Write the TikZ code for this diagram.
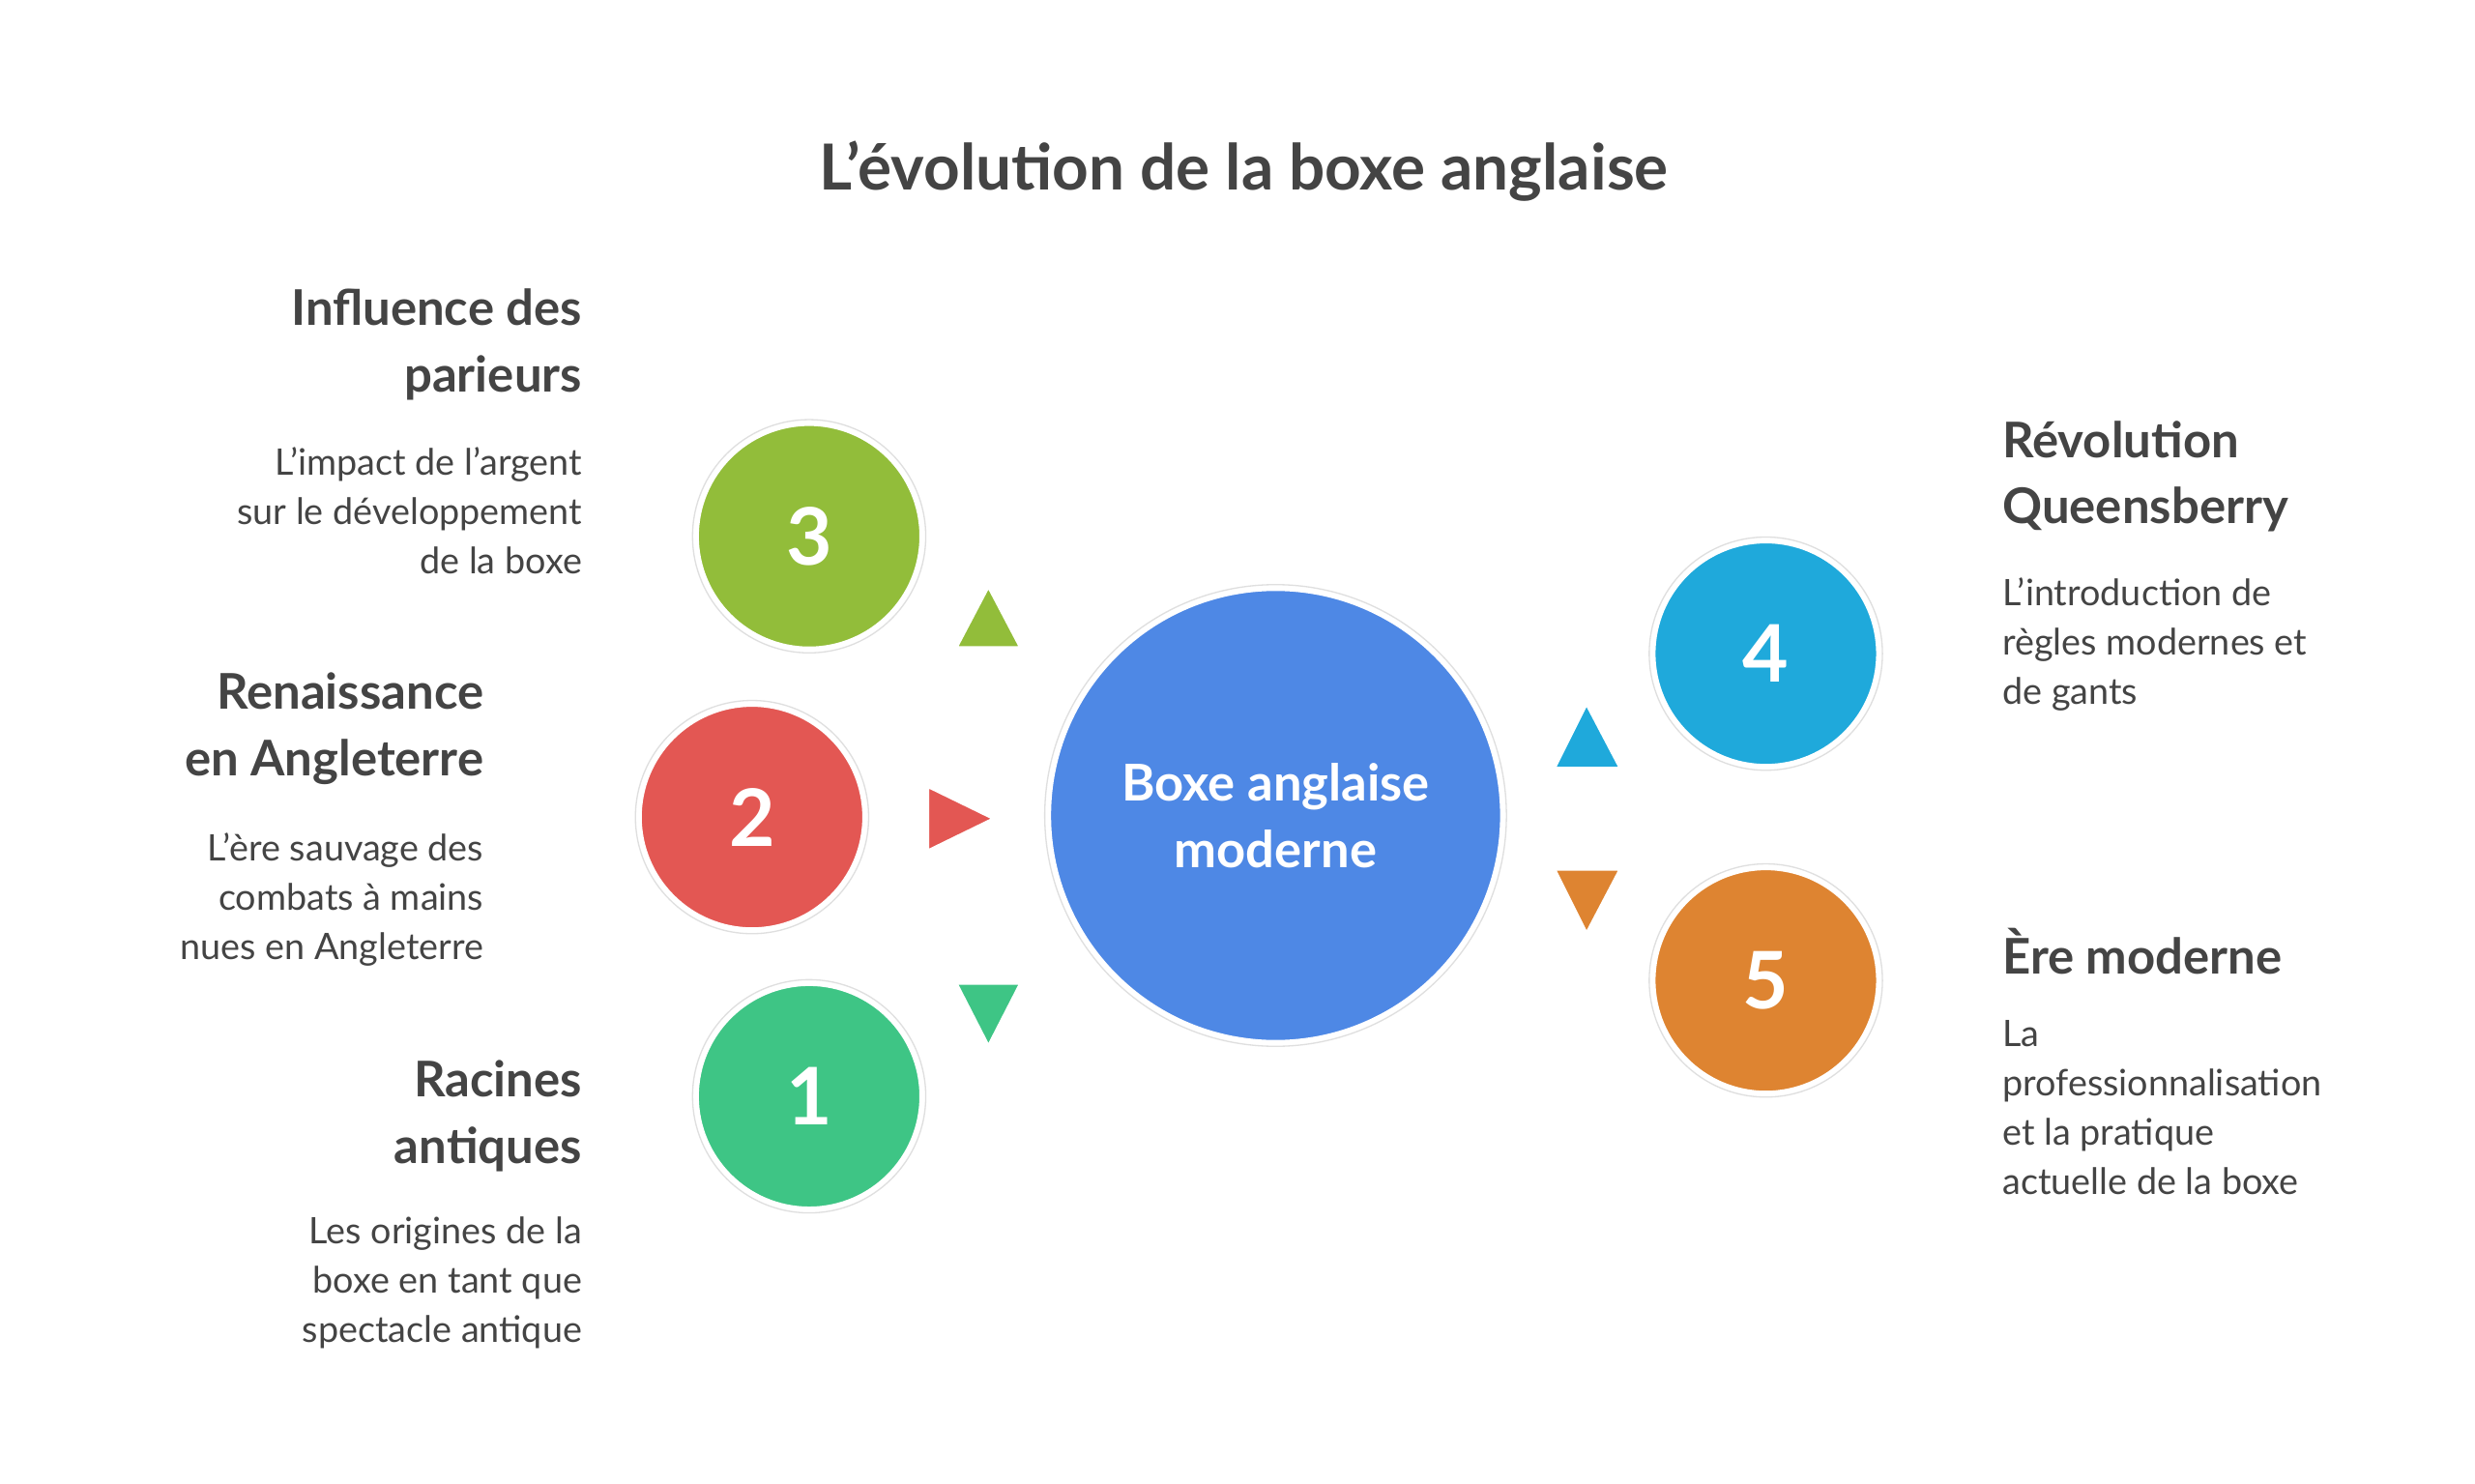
\documentclass[tikz,border=0pt]{standalone}
\usepackage{fontspec}
\setmainfont{Lato}
\begin{document}
\begin{tikzpicture}[x=1pt,y=-1pt,
  ring/.style={circle,draw=white,line width=3pt,inner sep=0pt},
  num/.style={text=white,font=\bfseries\fontsize{50}{50}\selectfont},
  head/.style={inner sep=0pt,text=txt,font=\bfseries\fontsize{31}{42}\selectfont},
  desc/.style={inner sep=0pt,text=txt,font=\fontsize{23}{31}\selectfont},
  tri/.style={draw=white,line width=1.5pt,line join=round}]
\definecolor{txt}{HTML}{444444}
\definecolor{cmain}{HTML}{4E88E5}
\definecolor{cthree}{HTML}{92BD3A}
\definecolor{ctwo}{HTML}{E35753}
\definecolor{cone}{HTML}{3EC585}
\definecolor{cfour}{HTML}{1FA9DB}
\definecolor{cfive}{HTML}{DE8431}
\useasboundingbox[fill=white] (0,0) rectangle (1560,935);
\node[text=txt,font=\bfseries\fontsize{40}{40}\selectfont] (title) at (784,108) {L'évolution de la boxe anglaise};
% circles
\foreach \n/\x/\y/\r/\c in {main/804/514/143/cmain, c3/510/338/71/cthree, c2/474/515/71/ctwo, c1/510/691/71/cone, c4/1113/412/71/cfour, c5/1113/618/71/cfive}{
  \draw[gray!25,line width=0.8pt] (\x,\y) circle (\r+2.5);
  \node[ring,fill=\c,minimum size=2*\r pt] (\n) at (\x,\y) {};
}
\node[text=white,align=center,font=\bfseries\fontsize{32}{42}\selectfont] (mt) at (main) {Boxe anglaise\\moderne};
\node[num] (n3) at (c3) {3};
\node[num] (n2) at (c2) {2};
\node[num] (n1) at (c1) {1};
\node[num] (n4) at (c4) {4};
\node[num] (n5) at (c5) {5};
% triangles
\draw[tri,fill=cthree] (603,408) -- (643,408) -- (623,370) -- cycle;
\draw[tri,fill=ctwo] (585,496) -- (585,536) -- (626,516) -- cycle;
\draw[tri,fill=cone] (603,620) -- (643,620) -- (623,659) -- cycle;
\draw[tri,fill=cfour] (980,484) -- (1021,484) -- (1000,444) -- cycle;
\draw[tri,fill=cfive] (980,548) -- (1021,548) -- (1000,588) -- cycle;
% texts
\node[head,align=right,anchor=north east] (h3) at (367,182) {Influence des\\parieurs};
\node[desc,align=right,anchor=north east] (d3) at (367,282) {L'impact de l'argent\\sur le développement\\de la boxe};
\node[head,align=right,anchor=north east] (h2) at (305,424) {Renaissance\\en Angleterre};
\node[desc,align=right,anchor=north east] (d2) at (305,525) {L'ère sauvage des\\combats à mains\\nues en Angleterre};
\node[head,align=right,anchor=north east] (h1) at (367,668) {Racines\\antiques};
\node[desc,align=right,anchor=north east] (d1) at (367,767) {Les origines de la\\boxe en tant que\\spectacle antique};
\node[head,align=left,anchor=north west] (h4) at (1262,265) {Révolution\\Queensberry};
\node[desc,align=left,anchor=north west] (d4) at (1262,364) {L'introduction de\\règles modernes et\\de gants};
\node[head,align=left,anchor=north west] (h5) at (1262,585) {Ère moderne};
\node[desc,align=left,anchor=north west] (d5) at (1262,643) {La\\professionnalisation\\et la pratique\\actuelle de la boxe};
\end{tikzpicture}
\end{document}
